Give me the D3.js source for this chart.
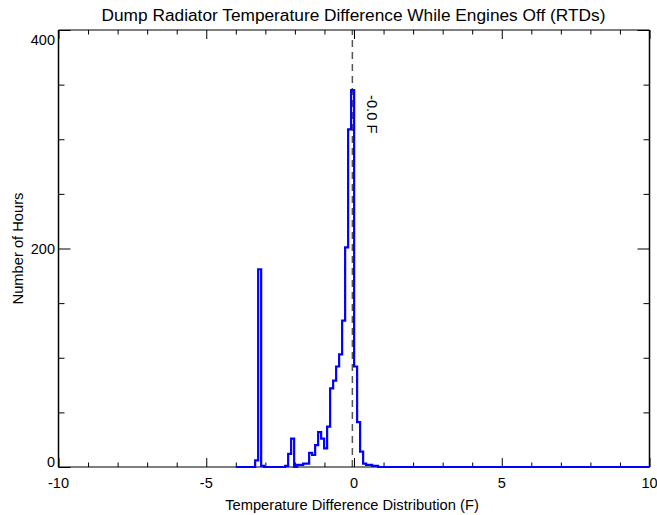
<!DOCTYPE html>
<html>
<head>
<meta charset="utf-8">
<script src="https://cdn.jsdelivr.net/npm/d3@7"></script>
<style>
  html, body { margin: 0; padding: 0; background: #fff; }
  svg { display: block; font-family: "Liberation Sans", Arial, Helvetica, sans-serif; }
</style>
</head>
<body>
<svg id="chart" width="657" height="515"></svg>
<script>
// ---- data ----
const titleText = "Dump Radiator Temperature Difference While Engines Off (RTDs)";
const xLabelText = "Temperature Difference Distribution (F)";
const yLabelText = "Number of Hours";
const xDomain = [-10, 10];
const yDomain = [0, 400];
const xMajorTicks = [-10, -5, 0, 5, 10];
const xMinorTicks = [-9, -8, -7, -6, -4, -3, -2, -1, 1, 2, 3, 4, 6, 7, 8, 9];
const yMajorTicks = [0, 200, 400];
const yMinorTicks = [50, 100, 150, 250, 300, 350];
const histRange = [-4, 10];          // extent of the plotted histogram
const binStart = -3.345;             // left edge of first listed bin
const binWidth = 0.1015;
const binCounts = [6, 181, 1, 0, 0, 0, 0, 0, 0, 0, 1, 12, 26, 0, 2, 2, 3, 3, 13, 11,
                   20, 32, 26, 17, 37, 72, 79, 92, 103, 134, 201, 309, 345, 92, 41, 14, 3, 2, 2, 1, 1, 0];
const meanValue = -0.055;
const meanLabel = "-0.0 F";

(function () {
// ---- layout ----
const svg = d3.select("#chart");
const pLeft = 58.5, pRight = 649.5, pTop = 30, pBottom = 467;
const x = d3.scaleLinear().domain(xDomain).range([pLeft, pRight]);
const y = d3.scaleLinear().domain(yDomain).range([pBottom, pTop]);
const fontTick = "14.5px";

// histogram path
const pts = [[histRange[0], 0]];
binCounts.forEach((c, i) => pts.push([binStart + i * binWidth, c]));
pts.push([binStart + binCounts.length * binWidth, 0]);
pts.push([histRange[1], 0]);

// dashed mean line
svg.append("line")
  .attr("x1", x(meanValue)).attr("x2", x(meanValue))
  .attr("y1", y(yDomain[0])).attr("y2", y(yDomain[1]))
  .attr("stroke", "#555").attr("stroke-width", 1.5)
  .attr("stroke-dasharray", "7,5");

// axes: ticks inside
function tickAxis(axisFn, scale, vals, size, transform) {
  const g = svg.append("g").attr("transform", transform)
    .call(axisFn(scale).tickValues(vals).tickSize(size).tickFormat(""));
  g.select(".domain").remove();
  g.selectAll(".tick line").attr("stroke", "#000").attr("stroke-width", 1);
  return g;
}
tickAxis(d3.axisBottom, x, xMajorTicks, -9, `translate(0,${pBottom})`);
tickAxis(d3.axisBottom, x, xMinorTicks, -4.5, `translate(0,${pBottom})`);
tickAxis(d3.axisTop, x, xMajorTicks, -9, `translate(0,${pTop})`);
tickAxis(d3.axisTop, x, xMinorTicks, -4.5, `translate(0,${pTop})`);
tickAxis(d3.axisLeft, y, yMajorTicks, -12, `translate(${pLeft},0)`);
tickAxis(d3.axisLeft, y, yMinorTicks, -6, `translate(${pLeft},0)`);
tickAxis(d3.axisRight, y, yMajorTicks, -12, `translate(${pRight},0)`);
tickAxis(d3.axisRight, y, yMinorTicks, -6, `translate(${pRight},0)`);

// frame
svg.append("line").attr("x1", pLeft).attr("x2", pRight).attr("y1", pBottom).attr("y2", pBottom)
  .attr("stroke", "#000").attr("stroke-width", 1);
svg.append("line").attr("x1", pLeft).attr("x2", pRight).attr("y1", pTop).attr("y2", pTop)
  .attr("stroke", "#000").attr("stroke-width", 1.2);
svg.append("line").attr("x1", pLeft).attr("x2", pLeft).attr("y1", pTop).attr("y2", pBottom)
  .attr("stroke", "#000").attr("stroke-width", 1.5);
svg.append("line").attr("x1", pRight).attr("x2", pRight).attr("y1", pTop).attr("y2", pBottom)
  .attr("stroke", "#000").attr("stroke-width", 1.5);

// histogram
svg.append("path")
  .datum(pts)
  .attr("d", d3.line().x(d => x(d[0])).y(d => y(d[1])).curve(d3.curveStepAfter))
  .attr("fill", "none").attr("stroke", "#0000ff").attr("stroke-width", 2.2)
  .attr("stroke-linejoin", "miter");

// tick labels
svg.append("g").selectAll("text").data(xMajorTicks).join("text")
  .attr("x", d => x(d)).attr("y", 488)
  .attr("text-anchor", "middle").attr("font-size", fontTick).attr("fill", "#000")
  .text(d => d);
const yLabelBaseline = v => v === yDomain[1] ? y(v) + 14.5 : (v === yDomain[0] ? y(v) : y(v) + 5);
svg.append("g").selectAll("text").data(yMajorTicks).join("text")
  .attr("x", 55).attr("y", d => yLabelBaseline(d))
  .attr("text-anchor", "end").attr("font-size", fontTick).attr("fill", "#000")
  .text(d => d);

// titles
svg.append("text").attr("x", 353.5).attr("y", 21)
  .attr("text-anchor", "middle").attr("font-size", "17.3px").attr("fill", "#000")
  .text(titleText);
svg.append("text").attr("x", 352).attr("y", 510)
  .attr("text-anchor", "middle").attr("font-size", "14.7px").attr("fill", "#000")
  .text(xLabelText);
svg.append("text").attr("transform", `translate(23,${(pTop + pBottom) / 2}) rotate(-90)`)
  .attr("text-anchor", "middle").attr("font-size", "14.7px").attr("fill", "#000")
  .text(yLabelText);

// mean label
svg.append("text").attr("transform", `translate(${x(meanValue) + 14.5},95) rotate(90)`)
  .attr("text-anchor", "start").attr("font-size", "14.7px").attr("fill", "#000")
  .text(meanLabel);
})();
</script>
</body>
</html>
